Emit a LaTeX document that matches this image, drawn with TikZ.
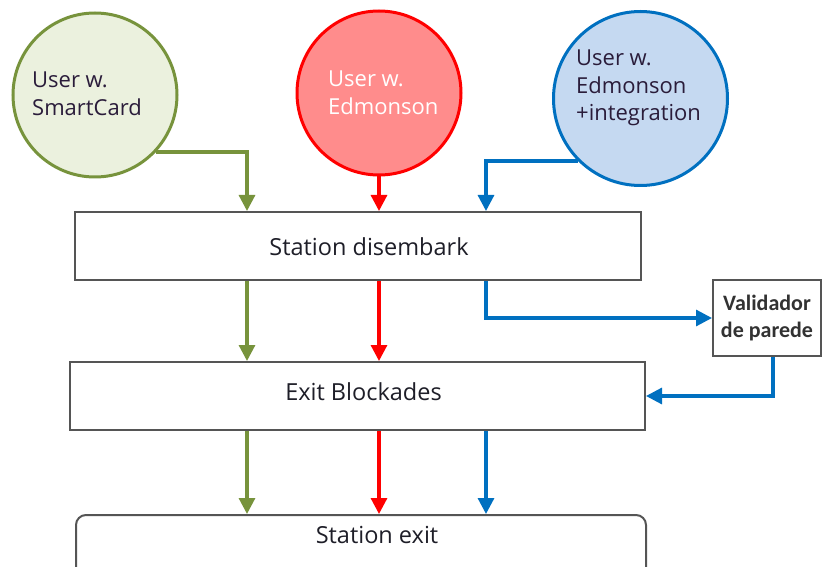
\documentclass[tikz,border=0pt]{standalone}
\usepackage{fontspec}
\setmainfont{Open Sans}
\newfontfamily\valfont{Carlito}
\usetikzlibrary{arrows.meta,calc}

\definecolor{grnline}{RGB}{119,147,60}
\definecolor{grnfill}{RGB}{235,241,222}
\definecolor{redline}{RGB}{255,0,0}
\definecolor{redfill}{RGB}{255,140,140}
\definecolor{bluline}{RGB}{0,112,192}
\definecolor{blufill}{RGB}{197,217,241}
\definecolor{boxgray}{RGB}{85,85,85}
\definecolor{usertext}{RGB}{42,28,58}
\definecolor{boxtext}{RGB}{30,30,40}

\begin{document}
\begin{tikzpicture}[x=1pt,y=-1pt,
  user/.style={circle,line width=3pt,minimum size=#1,inner sep=0pt},
  usertxt/.style={font=\fontsize{22}{27.5}\selectfont,align=left,inner sep=0pt,anchor=west},
  stagebox/.style={draw=boxgray,line width=2pt,fill=white,inner sep=0pt},
  stagetxt/.style={font=\fontsize{23.5}{28}\selectfont,text=boxtext,inner sep=0pt},
  flow/.style={line width=3.2pt,-{Triangle[length=16pt,width=16pt]}}
]
\useasboundingbox (0,0) rectangle (823,567);

% passenger groups
\node[user=164pt,draw=grnline,fill=grnfill] (c1) at (95,95) {};
\node[user=164pt,draw=redline,fill=redfill] (c2) at (379,93) {};
\node[user=174pt,draw=bluline,fill=blufill] (c3) at (640.5,98.5) {};
\node[usertxt,text=usertext] (t1) at (32,94) {User w.\\SmartCard};
\node[usertxt,text=white] (t2) at (328,93) {User w.\\Edmonson};
\node[usertxt,text=usertext] (t3) at (576,88) {User w.\\Edmonson\\+integration};

% stages
\node[stagebox,minimum width=566pt,minimum height=68pt,
      label={[stagetxt,xshift=11pt,yshift=-1pt]center:Station disembark}] (box1) at (358,246) {};
\node[stagebox,minimum width=575pt,minimum height=68pt,
      label={[stagetxt,xshift=6pt,yshift=4pt]center:Exit Blockades}] (box2) at (357.5,396) {};
\node[stagebox,rounded corners=10pt,minimum width=570pt,minimum height=90pt] (box3) at (361,560) {};
\node[stagetxt] (t6) at (377,535) {Station exit};
\node[stagebox,minimum width=108pt,minimum height=76pt,
      font=\valfont\bfseries\fontsize{22}{27}\selectfont,text={rgb,255:red,50;green,50;blue,50},
      align=center] (val) at (767,318) {Validador\\de parede};

% flow columns
\coordinate (gx) at (247,0);
\coordinate (rx) at (379,0);
\coordinate (bx) at (486,0);

% entry into the station
\draw[flow,grnline] (c1.-43) -| (gx |- box1.north);
\draw[flow,redline] (c2.south) -- (rx |- box1.north);
\draw[flow,bluline] (c3.225) -| (bx |- box1.north);

% disembark to blockades
\draw[flow,grnline] (gx |- box1.south) -- (gx |- box2.north);
\draw[flow,redline] (rx |- box1.south) -- (rx |- box2.north);
\draw[flow,bluline] (bx |- box1.south) |- (val.west);
\draw[flow,bluline] ([xshift=6pt]val.south) |- (box2.east);

% blockades to exit
\draw[flow,grnline] (gx |- box2.south) -- (gx |- box3.north);
\draw[flow,redline] (rx |- box2.south) -- (rx |- box3.north);
\draw[flow,bluline] (bx |- box2.south) -- (bx |- box3.north);
\end{tikzpicture}
\end{document}
